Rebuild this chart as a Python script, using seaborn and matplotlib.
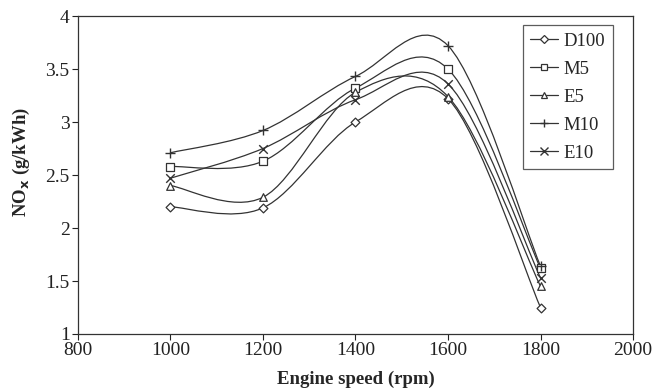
import numpy as np
import pandas as pd
import seaborn as sns
import matplotlib
matplotlib.use("Agg")
import matplotlib.pyplot as plt
from matplotlib.path import Path
from matplotlib.patches import PathPatch
from matplotlib.lines import Line2D

speed = [1000, 1200, 1400, 1600, 1800]
series_names = ["D100", "M5", "E5", "M10", "E10"]
d100 = [2.20, 2.19, 3.00, 3.22, 1.25]
m5 = [2.58, 2.63, 3.32, 3.50, 1.62]
e5 = [2.40, 2.29, 3.28, 3.24, 1.45]
m10 = [2.71, 2.92, 3.43, 3.72, 1.64]
e10 = [2.47, 2.75, 3.21, 3.36, 1.53]
values = [d100, m5, e5, m10, e10]
markers = {"D100": "D", "M5": "s", "E5": "^", "M10": "+", "E10": "x"}
msizes = {"D100": 20, "M5": 30, "E5": 30, "M10": 50, "E10": 38}

rows = []
for name, vals in zip(series_names, values):
    for s, v in zip(speed, vals):
        rows.append({"speed": s, "nox": v, "fuel": name})
df = pd.DataFrame(rows)

sns.set_style("ticks")
plt.rcParams["font.family"] = ["Liberation Serif", "DejaVu Serif"]

W, H = 654, 389
L, R, T, B = 78, 633, 16, 334
fig = plt.figure(figsize=(W / 100, H / 100), dpi=100)
ax = fig.add_axes([L / W, 1 - B / H, (R - L) / W, (B - T) / H])

col = "#333333"

def smooth_path(xs, ys):
    pts = np.column_stack([xs, ys]).astype(float)
    n = len(pts)
    verts = [pts[0]]
    codes = [Path.MOVETO]
    for i in range(n - 1):
        p0 = pts[i - 1] if i > 0 else pts[i]
        p1 = pts[i]
        p2 = pts[i + 1]
        p3 = pts[i + 2] if i + 2 < n else pts[i + 1]
        c1 = p1 + (p2 - p0) / 6.0
        c2 = p2 - (p3 - p1) / 6.0
        verts += [c1, c2, p2]
        codes += [Path.CURVE4] * 3
    return Path(verts, codes)

for name, vals in zip(series_names, values):
    patch = PathPatch(smooth_path(speed, vals), facecolor="none",
                      edgecolor=col, lw=0.9, zorder=2)
    ax.add_patch(patch)

for name in series_names:
    sub = df[df["fuel"] == name]
    m = markers[name]
    if m in ("+", "x"):
        sns.scatterplot(data=sub, x="speed", y="nox", marker=m, s=msizes[name],
                        color=col, linewidth=1.0, ax=ax, zorder=3, legend=False)
    else:
        sns.scatterplot(data=sub, x="speed", y="nox", marker=m, s=msizes[name],
                        facecolor="white", edgecolor=col, linewidth=0.9,
                        ax=ax, zorder=3, legend=False)

ax.set_xlim(800, 2000)
ax.set_ylim(1, 4)
ax.set_xticks([800, 1000, 1200, 1400, 1600, 1800, 2000])
ax.set_yticks([1, 1.5, 2, 2.5, 3, 3.5, 4])
ax.set_yticklabels(["1", "1.5", "2", "2.5", "3", "3.5", "4"])
ax.tick_params(direction="out", length=4, width=0.8, labelsize=14,
               colors="#222222", pad=2)
for sp in ax.spines.values():
    sp.set_linewidth(0.9)
    sp.set_color("#333333")

ax.set_xlabel("Engine speed (rpm)", fontsize=13.5, fontweight="bold", labelpad=8)
ax.set_ylabel(r"NO$_\mathbf{x}$ (g/kWh)", fontsize=13.5, fontweight="bold")
ax.yaxis.set_label_coords(-0.083, 0.54)

handles = []
for name in series_names:
    m = markers[name]
    if m in ("+", "x"):
        h = Line2D([0], [0], color=col, lw=0.9, marker=m, markersize=5.5,
                   markeredgewidth=1.0)
    else:
        h = Line2D([0], [0], color=col, lw=0.9, marker=m,
                   markersize=4 if m == "D" else 4.5,
                   markerfacecolor="white", markeredgecolor=col, markeredgewidth=0.9)
    handles.append(h)
leg = ax.legend(handles, series_names, loc="upper right", frameon=True,
                fancybox=False, edgecolor="#333333", fontsize=13.5,
                handlelength=1.5, handletextpad=0.3, labelspacing=0.58,
                borderpad=0.4, borderaxespad=0.0)
leg.get_frame().set_linewidth(0.9)
leg.set_bbox_to_anchor((1 - 20 / (R - L), 1 - 9 / (B - T)), transform=ax.transAxes)

fig.savefig("out.png", dpi=100)
